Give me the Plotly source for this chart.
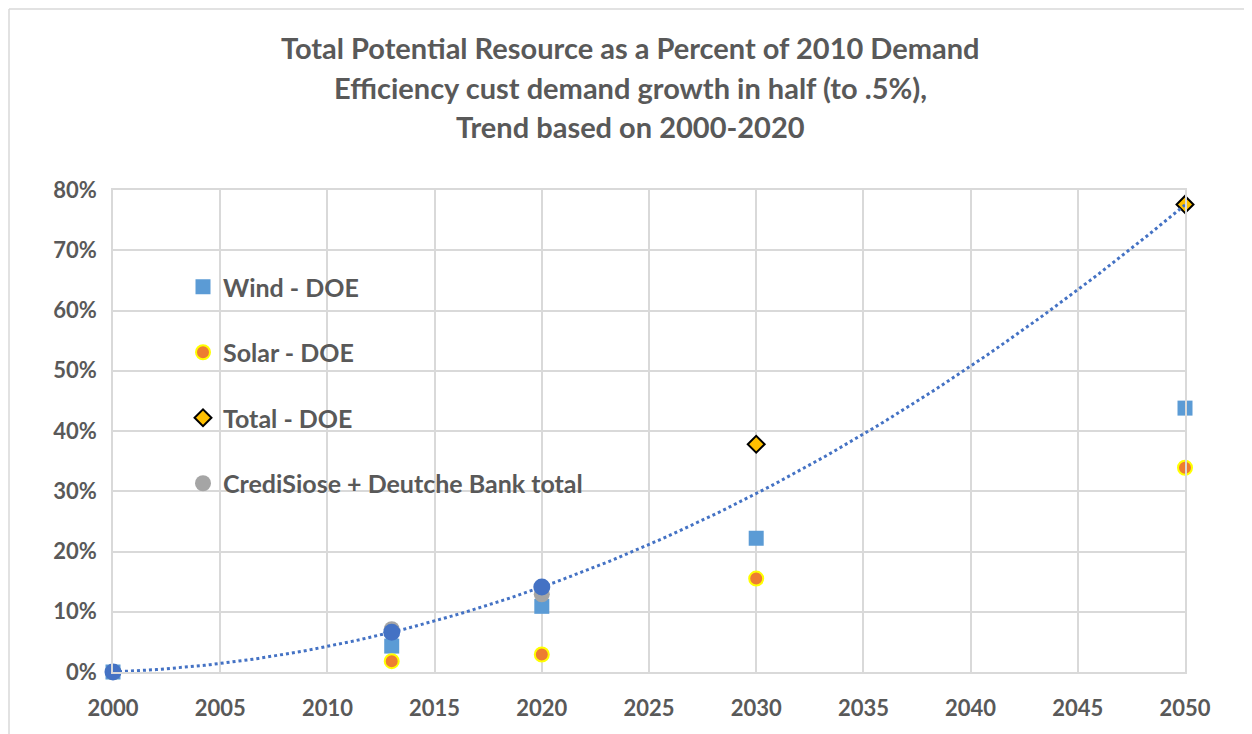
import numpy as np
import plotly.graph_objects as go

# ---- data (percent of 2010 demand) ----
wind_years = [2000, 2013, 2020, 2030, 2050]
wind_vals = [0.0, 4.3, 10.9, 22.2, 43.8]

solar_years = [2000, 2013, 2020, 2030, 2050]
solar_vals = [0.0, 1.8, 2.9, 15.5, 33.9]

total_years = [2030, 2050]
total_vals = [37.8, 77.6]

cds_years = [2013, 2020]
cds_vals = [7.1, 12.9]

trend_base_years = [2000, 2013, 2020]
trend_base_vals = [0.0, 6.6, 14.1]

x_ticks = [2000, 2005, 2010, 2015, 2020, 2025, 2030, 2035, 2040, 2045, 2050]
y_ticks = [0, 10, 20, 30, 40, 50, 60, 70, 80]

title_lines = ["Total Potential Resource as a Percent of 2010 Demand",
               "Efficiency cust demand growth in half (to .5%),",
               "Trend based on 2000-2020"]

FONT = "Lato"
TXT = "#595959"

# the page body adds an 8px offset; plot area target: x 113..1185, y 190..672 (screen)
OFF = 8
PL, PR, PT, PB = 113, 1185, 190, 672
PW, PH = PR - PL, PB - PT


def px_x(px):
    return (px - PL) / PW


def px_y(py):
    return (PB - py) / PH


# polynomial (order 2) trendline like Excel's, forecast to 2050
coef = np.polyfit(np.array(trend_base_years) - 2000, trend_base_vals, 2)
tx = np.linspace(2000, 2050, 200)
ty = np.polyval(coef, tx - 2000)

fig = go.Figure()
fig.add_trace(go.Scatter(x=wind_years, y=wind_vals, mode="markers", name="<b>Wind - DOE</b>",
                         legendgroup="a", cliponaxis=False,
                         marker=dict(symbol="square", size=15, color="#5B9BD5")))
fig.add_trace(go.Scatter(x=solar_years, y=solar_vals, mode="markers", name="<b>Solar - DOE</b>",
                         legendgroup="b", cliponaxis=False,
                         marker=dict(symbol="circle", size=14, color="#ED7D31",
                                     line=dict(color="#FFFF00", width=2))))
fig.add_trace(go.Scatter(x=total_years, y=total_vals, mode="markers", name="<b>Total - DOE</b>",
                         legendgroup="c", cliponaxis=False,
                         marker=dict(symbol="diamond", size=13, color="#FFC000",
                                     line=dict(color="#000000", width=2))))
fig.add_trace(go.Scatter(x=cds_years, y=cds_vals, mode="markers",
                         name="<b>CrediSiose + Deutche Bank total</b>", legendgroup="d",
                         cliponaxis=False,
                         marker=dict(symbol="circle", size=16, color="#A5A5A5")))
fig.add_trace(go.Scatter(x=tx, y=ty, mode="lines", showlegend=False, cliponaxis=False,
                         line=dict(color="#4472C4", width=3, dash="dot"), hoverinfo="skip"))
fig.add_trace(go.Scatter(x=trend_base_years, y=trend_base_vals, mode="markers", showlegend=False,
                         cliponaxis=False,
                         marker=dict(symbol="circle", size=17, color="#4472C4")))

for i, line in enumerate(title_lines):
    fig.add_annotation(text="<b>%s</b>" % line, xref="paper", yref="paper",
                       x=px_x(630), y=px_y(48 + 39 * i),
                       xanchor="center", yanchor="middle", showarrow=False,
                       font=dict(family=FONT, size=29, color=TXT))

# outer chart border (top and left edges visible)
fig.add_shape(type="line", xref="paper", yref="paper",
              x0=px_x(9), x1=px_x(1260), y0=px_y(9), y1=px_y(9),
              line=dict(color="#D9D9D9", width=1.5), layer="below")
fig.add_shape(type="line", xref="paper", yref="paper",
              x0=px_x(9), x1=px_x(9), y0=px_y(9), y1=px_y(760),
              line=dict(color="#D9D9D9", width=1.5), layer="below")

fig.update_layout(
    width=1252 - OFF, height=734 - OFF,
    margin=dict(l=PL - OFF, r=1252 - PR, t=PT - OFF, b=734 - PB),
    paper_bgcolor="white", plot_bgcolor="white",
    font=dict(family=FONT, color=TXT),
    showlegend=True,
    legend=dict(x=px_x(183), y=px_y(264), xanchor="left", yanchor="top",
                bgcolor="rgba(0,0,0,0)", traceorder="grouped", tracegroupgap=30,
                font=dict(family=FONT, size=25, color=TXT)),
    xaxis=dict(range=[2000, 2050], tickvals=x_ticks,
               ticktext=["<b>%d</b>" % v for v in x_ticks],
               showgrid=True, gridcolor="#D9D9D9", gridwidth=1.5,
               showline=True, linecolor="#D9D9D9", linewidth=1.5, mirror=True,
               zeroline=False, ticks="", ticklabelstandoff=16,
               tickfont=dict(family=FONT, size=22, color=TXT)),
    yaxis=dict(range=[0, 80], tickvals=y_ticks,
               ticktext=["<b>%d%%</b>" % v for v in y_ticks],
               showgrid=True, gridcolor="#D9D9D9", gridwidth=1.5,
               showline=True, linecolor="#D9D9D9", linewidth=1.5, mirror=True,
               zeroline=False, ticks="", ticklabelstandoff=10,
               tickfont=dict(family=FONT, size=22, color=TXT)),
)

fig.write_html("out.html")
